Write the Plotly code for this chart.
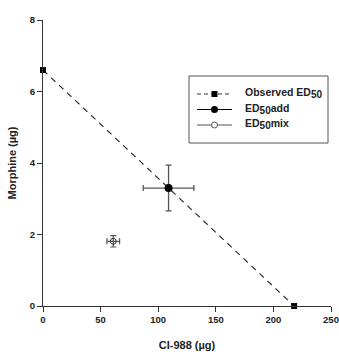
import plotly.graph_objects as go

obs_x = [0, 218]
obs_y = [6.6, 0]
add_x = [109]
add_y = [3.3]
add_xerr = [22]
add_yerr = [0.64]
mix_x = [61]
mix_y = [1.81]
mix_xerr = [5.5]
mix_yerr = [0.16]
x_ticks = [0, 50, 100, 150, 200, 250]
y_ticks = [0, 2, 4, 6, 8]
SUB = "<sub><span style='font-size:10px'>50</span></sub>"
legend_labels = ["Observed ED" + SUB, "ED" + SUB + "add", "ED" + SUB + "mix"]

FONT = "Liberation Sans, Arial, sans-serif"

fig = go.Figure()
fig.add_trace(go.Scatter(
    x=obs_x, y=obs_y, mode="lines+markers", showlegend=False,
    line=dict(color="#333333", width=1.2, dash="6px,5px"),
    marker=dict(symbol="square", size=6, color="black"),
    cliponaxis=False))
fig.add_trace(go.Scatter(
    x=add_x, y=add_y, mode="markers", showlegend=False,
    marker=dict(symbol="circle", size=8, color="black"),
    error_x=dict(type="data", array=add_xerr, color="#555555", thickness=1.3, width=3),
    error_y=dict(type="data", array=add_yerr, color="#555555", thickness=1.3, width=3)))
fig.add_trace(go.Scatter(
    x=mix_x, y=mix_y, mode="markers", showlegend=False,
    marker=dict(symbol="circle-open", size=6, color="#333333", line=dict(width=1)),
    error_x=dict(type="data", array=mix_xerr, color="#555555", thickness=1.2, width=3),
    error_y=dict(type="data", array=mix_yerr, color="#555555", thickness=1.2, width=3)))

axis_common = dict(
    showgrid=False, zeroline=False, showline=True, linecolor="#333333", linewidth=1,
    ticks="outside", ticklen=5, tickcolor="#333333", tickwidth=1, automargin=False,
    tickfont=dict(family=FONT, size=9.5, color="#222222", weight="bold"),
)
fig.update_xaxes(range=[0, 250], tickvals=x_ticks, ticktext=[str(v) for v in x_ticks],
                 title=dict(text="<b>CI-988 (µg)</b>", font=dict(family=FONT, size=11, color="#222222"), standoff=16),
                 **axis_common)
fig.update_yaxes(range=[0, 8], tickvals=y_ticks, ticktext=[str(v) for v in y_ticks],
                 title=dict(text="<b>Morphine (µg)</b>", font=dict(family=FONT, size=11, color="#222222"), standoff=10),
                 **axis_common)

# ---- hand-drawn legend (paper coordinates) ----
L, R, PT, PB = 43, 331, 20, 306
def px(x):
    return (x - L) / (R - L)
def py(y):
    return (PB - y) / (PB - PT)

shapes = [dict(type="rect", xref="paper", yref="paper",
               x0=px(189), x1=px(328), y0=py(143), y1=py(76),
               line=dict(color="#555555", width=1), fillcolor="white", layer="above")]
rows = [94, 109.5, 125]
line_styles = [dict(color="#333333", width=1.2, dash="4px,3px"),
               dict(color="black", width=1.2),
               dict(color="#555555", width=1.2)]
annotations = []
for i, yy in enumerate(rows):
    shapes.append(dict(type="line", xref="paper", yref="paper",
                       x0=px(197), x1=px(232), y0=py(yy), y1=py(yy),
                       line=line_styles[i], layer="above"))
    cx, cy = px(214.5), py(yy)
    if i == 0:
        shapes.append(dict(type="rect", xref="paper", yref="paper", xsizemode="pixel", ysizemode="pixel",
                           xanchor=cx, yanchor=cy, x0=-3, x1=3, y0=-3, y1=3,
                           fillcolor="black", line=dict(width=0), layer="above"))
    elif i == 1:
        shapes.append(dict(type="circle", xref="paper", yref="paper", xsizemode="pixel", ysizemode="pixel",
                           xanchor=cx, yanchor=cy, x0=-3.5, x1=3.5, y0=-3.5, y1=3.5,
                           fillcolor="black", line=dict(width=0), layer="above"))
    else:
        shapes.append(dict(type="circle", xref="paper", yref="paper", xsizemode="pixel", ysizemode="pixel",
                           xanchor=cx, yanchor=cy, x0=-3, x1=3, y0=-3, y1=3,
                           fillcolor="white", line=dict(color="#555555", width=1), layer="above"))
    annotations.append(dict(xref="paper", yref="paper", x=px(243), y=py(yy - 1),
                            xanchor="left", yanchor="middle", showarrow=False,
                            text="<b>" + legend_labels[i] + "</b>",
                            font=dict(family=FONT, size=10.5, color="#222222")))

fig.update_layout(
    width=339, height=354,
    margin=dict(l=43, r=8, t=20, b=48),
    paper_bgcolor="white", plot_bgcolor="white",
    font=dict(family=FONT, size=10, color="#222222", weight="bold"),
    showlegend=False,
    shapes=shapes, annotations=annotations,
)
fig.write_html("out.html")
